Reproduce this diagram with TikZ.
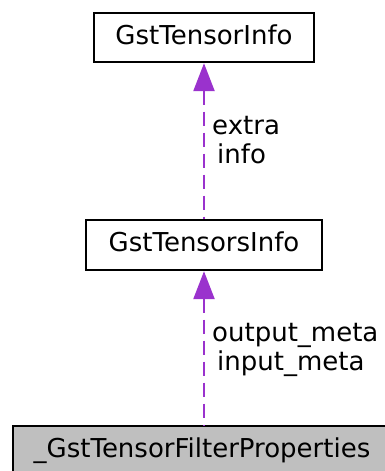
\documentclass[tikz,border=0pt]{standalone}
\usepackage{fontspec}
\setmainfont{DejaVu Sans}
\usetikzlibrary{arrows.meta}
\definecolor{edgepurple}{HTML}{9A32CD}
\definecolor{boxgray}{HTML}{BFBFBF}
\begin{document}
\begin{tikzpicture}[x=1pt,y=-1pt,
  cls/.style={draw=black, line width=2.4pt, fill=white, inner sep=0pt,
    font=\fontsize{26}{29}\selectfont, text height=13pt, text depth=0pt},
  lbl/.style={inner sep=0pt, align=left, font=\fontsize{26}{29}\selectfont},
  edge/.style={draw=edgepurple, line width=2.4pt, dash pattern=on 14pt off 7pt,
    {Triangle[length=28pt,width=21pt,fill=edgepurple]}-}]
\useasboundingbox (0,0) rectangle (385,471);
\clip (0,0) rectangle (385,471);
\node[cls, minimum width=220pt, minimum height=49pt] (t1) at (204,37.5) {GstTensorInfo};
\node[cls, minimum width=236pt, minimum height=50pt] (t2) at (204,245) {GstTensorsInfo};
\node[cls, fill=boxgray, minimum width=378pt, minimum height=50pt] (t3) at (202,451) {\_GstTensorFilterProperties};
\coordinate (e2) at (t3.north -| t2.south);
\draw[edge] (t1.south) -- (t2.north);
\draw[edge] (t2.south) -- (e2);
\node[lbl, anchor=north west] (l1) at (212,116) {extra\\\hspace*{5pt}info};
\node[lbl, anchor=north west] (l2) at (212,323) {output\_meta\\\hspace*{5pt}input\_meta};
\end{tikzpicture}
\end{document}
